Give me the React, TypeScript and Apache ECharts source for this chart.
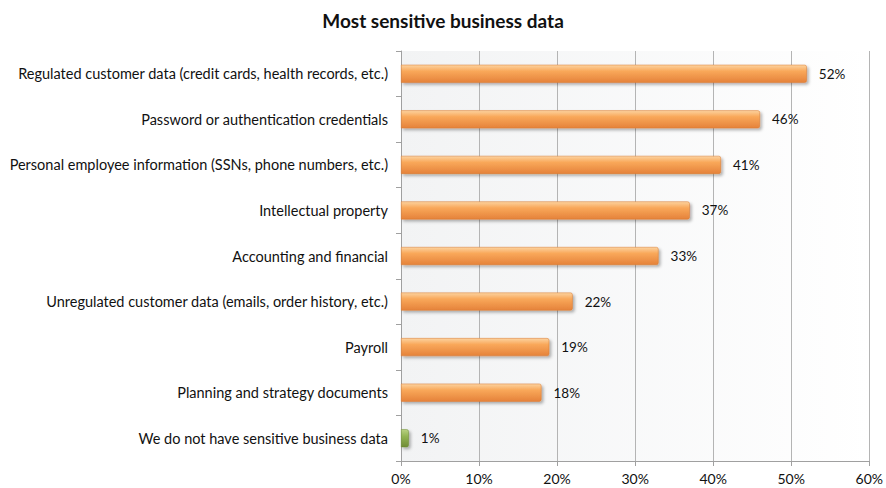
import React, { useEffect, useRef } from "react";
import * as echarts from "echarts";

const categories = [
  "Regulated customer data (credit cards, health records, etc.)",
  "Password or authentication credentials",
  "Personal employee information (SSNs, phone numbers, etc.)",
  "Intellectual property",
  "Accounting and financial",
  "Unregulated customer data (emails, order history, etc.)",
  "Payroll",
  "Planning and strategy documents",
  "We do not have sensitive business data",
];
const values = [52, 46, 41, 37, 33, 22, 19, 18, 1];
const xTicks = [0, 10, 20, 30, 40, 50, 60];

const orange = new echarts.graphic.LinearGradient(0, 0, 0, 1, [
  { offset: 0, color: "#fcd3a0" },
  { offset: 0.35, color: "#f9a85a" },
  { offset: 1, color: "#e5823a" },
]);
const green = new echarts.graphic.LinearGradient(0, 0, 0, 1, [
  { offset: 0, color: "#b9d183" },
  { offset: 0.4, color: "#93b453" },
  { offset: 1, color: "#6f8c35" },
]);

export default function App() {
  const ref = useRef<HTMLDivElement>(null);
  useEffect(() => {
    if (!ref.current) return;
    const chart = echarts.init(ref.current, undefined, { renderer: "svg" });
    const font = "Lato, 'Open Sans', sans-serif";
    chart.setOption({
      animation: false,
      title: {
        text: "Most sensitive business data",
        left: "center",
        top: 6,
        textStyle: { fontFamily: font, fontSize: 19, fontWeight: "bold", color: "#111" },
      },
      grid: {
        left: 401,
        right: 15,
        top: 51,
        bottom: 27,
        show: true,
        borderWidth: 0,
        backgroundColor: new echarts.graphic.LinearGradient(0, 0, 1, 0, [
          { offset: 0, color: "#f2f3f4" },
          { offset: 1, color: "#ffffff" },
        ]),
      },
      xAxis: {
        type: "value",
        min: 0,
        max: 60,
        interval: 10,
        axisLine: { show: true, lineStyle: { color: "#a0a0a0" } },
        axisTick: { show: true, length: 5, lineStyle: { color: "#a0a0a0" } },
        splitLine: { show: true, lineStyle: { color: "#b4b4b4", width: 1 } },
        axisLabel: {
          formatter: (v: number) => (xTicks.includes(v) ? v + "%" : ""),
          fontFamily: font,
          fontSize: 14,
          color: "#111",
          margin: 10,
        },
      },
      yAxis: {
        type: "category",
        inverse: true,
        data: categories,
        axisLine: { show: true, lineStyle: { color: "#a0a0a0" } },
        axisTick: { show: true, length: 5, lineStyle: { color: "#a0a0a0" } },
        axisLabel: { fontFamily: font, fontSize: 14.5, color: "#111", margin: 13 },
      },
      series: [
        {
          type: "bar",
          barWidth: 18,
          data: values.map((v, i) => ({
            value: v,
            itemStyle: {
              color: i === values.length - 1 ? green : orange,
              borderColor: i === values.length - 1 ? "#6a8a30" : "#d8792f",
              borderWidth: 0.5,
              borderRadius: [0, 2, 2, 0],
              shadowColor: "rgba(0,0,0,0.3)",
              shadowBlur: 3,
              shadowOffsetX: 2,
              shadowOffsetY: 2,
            },
          })),
          label: {
            show: true,
            position: "right",
            distance: 12,
            formatter: "{c}%",
            fontFamily: font,
            fontSize: 13.5,
            color: "#111",
          },
        },
      ],
    });
    return () => chart.dispose();
  }, []);
  return (
    <div
      ref={ref}
      style={{ position: "absolute", left: 0, top: 0, width: 886, height: 488, background: "#fff" }}
    />
  );
}
